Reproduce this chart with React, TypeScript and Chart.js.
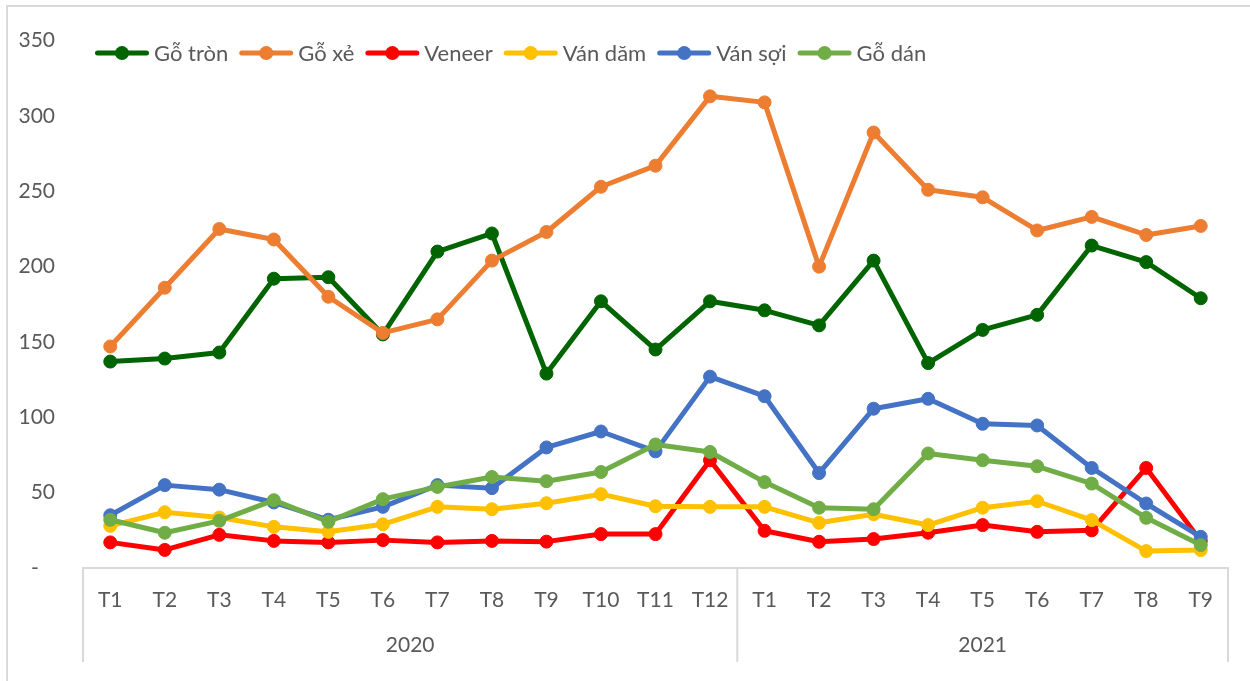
import React, { useEffect, useRef } from 'react';
import { Chart, registerables } from 'chart.js';

Chart.register(...registerables);

// ---- Data ----
const months = ['T1', 'T2', 'T3', 'T4', 'T5', 'T6', 'T7', 'T8', 'T9', 'T10', 'T11', 'T12', 'T1', 'T2', 'T3', 'T4', 'T5', 'T6', 'T7', 'T8', 'T9'];
const yearLabels = ['2020', '2021'];
const yearSpans = [12, 9];

const seriesNames = ['Gỗ tròn', 'Gỗ xẻ', 'Veneer', 'Ván dăm', 'Ván sợi', 'Gỗ dán'];
const seriesColors = ['#006400', '#ED7D31', '#FF0000', '#FFC000', '#4472C4', '#70AD47'];

const goTron = [137, 139, 143, 192, 193, 155, 210, 222, 129, 177, 145, 177, 171, 161, 204, 136, 158, 168, 214, 203, 179];
const goXe = [147, 186, 225, 218, 180, 156, 165, 204, 223, 253, 267, 313, 309, 200, 289, 251, 246, 224, 233, 221, 227];
const veneer = [17, 12, 22, 18, 17, 18.5, 17, 18, 17.5, 22.5, 22.5, 71.5, 24.7, 17.4, 19.2, 23.4, 28.5, 24, 25, 66.4, 18];
const vanDam = [28, 37, 33.5, 27.3, 24, 29, 40.6, 39, 43, 49, 41, 40.6, 40.6, 30, 35.7, 28.5, 40, 44.3, 31.8, 11.2, 11.9];
const vanSoi = [35, 55, 52, 43.5, 32, 40.6, 55, 53, 80, 90.6, 77.4, 127, 114, 63, 105.7, 112.3, 95.7, 94.6, 66.4, 42.8, 20.7];
const goDan = [32, 23.4, 31.3, 45, 30.7, 45.7, 53.8, 60.4, 57.6, 63.7, 82, 77, 57, 40, 39, 76, 71.5, 67.5, 56, 33.3, 15.2];

const seriesData = [goTron, goXe, veneer, vanDam, vanSoi, goDan];

const yMin = 0;
const yMax = 350;
const yStep = 50;

// ---- Styles ----
const FONT_FAMILY = 'Lato, "Open Sans", "Noto Sans", sans-serif';
const FONT_SIZE = 21;
const LEGEND_FONT_SIZE = 22;
const TEXT_COLOR = '#595959';
const LINE_COLOR = '#d9d9d9';

const legendPlugin = {
  id: 'lineLegend',
  afterDraw(chart: any) {
    const { ctx, chartArea } = chart;
    ctx.save();
    ctx.font = `${LEGEND_FONT_SIZE}px ${FONT_FAMILY}`;
    ctx.textBaseline = 'middle';
    ctx.textAlign = 'left';
    let x = chartArea.left + 12;
    const y = chartArea.top + 12.5;
    chart.data.datasets.forEach((ds: any) => {
      ctx.strokeStyle = ds.borderColor;
      ctx.fillStyle = ds.borderColor;
      ctx.lineWidth = 5;
      ctx.lineCap = 'round';
      ctx.beginPath();
      ctx.moveTo(x + 2.5, y);
      ctx.lineTo(x + 51.5, y);
      ctx.stroke();
      ctx.beginPath();
      ctx.arc(x + 27, y, 7, 0, Math.PI * 2);
      ctx.fill();
      ctx.fillStyle = TEXT_COLOR;
      ctx.fillText(ds.label, x + 59, y + 1);
      x += 59 + ctx.measureText(ds.label).width + 11;
    });
    ctx.restore();
  },
};

const groupAxisPlugin = {
  id: 'groupAxis',
  afterDraw(chart: any) {
    const { ctx, chartArea } = chart;
    const xs = chart.scales.x;
    const step = xs.getPixelForValue(1) - xs.getPixelForValue(0);
    const bounds: number[] = [xs.getPixelForValue(0) - step / 2];
    let idx = 0;
    yearSpans.forEach((n) => {
      idx += n;
      bounds.push(xs.getPixelForValue(idx - 1) + step / 2);
    });
    const top = chartArea.bottom;
    ctx.save();
    ctx.strokeStyle = LINE_COLOR;
    ctx.lineWidth = 2;
    bounds.forEach((bx) => {
      ctx.beginPath();
      ctx.moveTo(bx, top);
      ctx.lineTo(bx, top + 94);
      ctx.stroke();
    });
    ctx.font = `${FONT_SIZE}px ${FONT_FAMILY}`;
    ctx.fillStyle = TEXT_COLOR;
    ctx.textAlign = 'center';
    ctx.textBaseline = 'middle';
    yearLabels.forEach((lab, i) => {
      ctx.fillText(lab, (bounds[i] + bounds[i + 1]) / 2, top + 77);
    });
    ctx.restore();
  },
};

export default function App() {
  const canvasRef = useRef<HTMLCanvasElement | null>(null);

  useEffect(() => {
    if (!canvasRef.current) return;
    const chart = new Chart(canvasRef.current, {
      type: 'line',
      data: {
        labels: months,
        datasets: seriesNames.map((name, i) => ({
          label: name,
          data: seriesData[i],
          borderColor: seriesColors[i],
          backgroundColor: seriesColors[i],
          pointBackgroundColor: seriesColors[i],
          pointBorderColor: seriesColors[i],
          borderWidth: 5,
          pointRadius: 6.5,
          pointBorderWidth: 1,
          borderJoinStyle: 'round',
          borderCapStyle: 'round',
          tension: 0,
          fill: false,
          clip: false,
          order: seriesNames.length - 1 - i,
        })),
      },
      options: {
        responsive: false,
        animation: false,
        layout: { padding: { top: 39, right: 22, left: 0, bottom: 0 } },
        plugins: {
          legend: { display: false },
          tooltip: { enabled: false },
        },
        scales: {
          x: {
            offset: true,
            grid: { display: true, drawOnChartArea: false, drawTicks: false },
            border: { display: true, color: LINE_COLOR, width: 2 },
            ticks: {
              font: { family: FONT_FAMILY, size: FONT_SIZE },
              color: TEXT_COLOR,
              padding: 20,
              maxRotation: 0,
              autoSkip: false,
            },
            afterFit(scale: any) {
              scale.height = 113;
            },
          },
          y: {
            min: yMin,
            max: yMax,
            grid: { display: false, drawTicks: false },
            border: { display: false },
            ticks: {
              stepSize: yStep,
              font: { family: FONT_FAMILY, size: FONT_SIZE },
              color: TEXT_COLOR,
              padding: 28,
              callback: (v: any) => (Number(v) === 0 ? '-   ' : String(v)),
            },
            afterFit(scale: any) {
              scale.width = 83;
            },
          },
        },
      },
      plugins: [legendPlugin, groupAxisPlugin],
    } as any);
    return () => chart.destroy();
  }, []);

  return (
    <div style={{ position: 'absolute', left: 0, top: 0, width: 1250, height: 681, overflow: 'hidden', background: '#ffffff' }}>
      <div
        style={{
          position: 'absolute',
          left: 6,
          top: 5,
          width: 1300,
          height: 700,
          borderLeft: `2px solid ${LINE_COLOR}`,
          borderTop: `2px solid ${LINE_COLOR}`,
        }}
      />
      <canvas
        ref={canvasRef}
        width={1250}
        height={681}
        style={{ position: 'absolute', left: 0, top: 0, width: 1250, height: 681 }}
      />
    </div>
  );
}
